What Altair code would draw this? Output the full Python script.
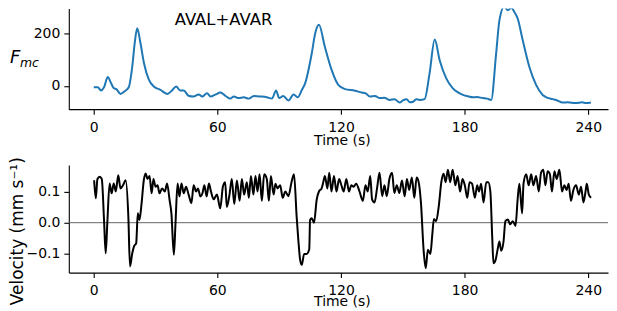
import altair as alt
import pandas as pd

# ---- data ----
time_f = [0, 2, 3.5, 5, 6.8, 8.4, 9.7, 11, 13, 15, 17, 18.7, 20, 21.1, 22.7, 24.4, 26.8, 29.2,
          32.4, 35.7, 38, 40, 42, 43.7, 46, 48.5, 51, 52.6, 55, 56.7, 59, 61.5, 64, 66.3, 68,
          70.4, 72.8, 75.3, 77.7, 81, 84, 86.5, 88.5, 90, 92, 94.5, 97, 99, 101, 102.6, 105.8,
          107.5, 109.3, 112.2, 115.5, 118.7, 122, 126.8, 130, 132, 134, 136.5, 138.8, 141,
          143.7, 146, 148.5, 150, 151.8, 153.5, 155, 156.5, 158.2, 160.6, 163, 165.5, 167.9,
          171.1, 174.3, 177, 179.2, 182, 184, 186, 188.8, 191, 192.9, 195.3, 196.9, 199.3,
          200.9, 202.6, 204.2, 205.8, 208.2, 211.4, 214.7, 217.9, 220, 222.7, 225, 227.5, 230,
          234, 237, 239, 241.3]
fmc = [-5, -5, -17, -5, 34, 11, -8, -12, -30, -20, -5, 73, 170, 219, 162, 86, 23, -2,
       -15, -30, -17, -2, -17, -17, -37, -40, -32, -40, -28, -40, -33, -25, -38, -48, -40,
       -46, -43, -48, -38, -40, -43, -48, -17, -46, -38, -55, -32, -43, -15, 10, 123,
       200, 232, 148, 60, 4, -12, -18, -25, -28, -40, -38, -46, -45,
       -53, -50, -63, -55, -50, -62, -60, -50, -53, -50, 48, 176, 98,
       29, -9, -25, -34, -40, -43, -42, -46, -48, -53, 123, 249, 302,
       287, 297, 280, 255, 174, 73, 4, -34, -44, -50, -55, -63, -62,
       -65, -62, -65, -63]

time_v = [0.2, 1.0, 1.8, 2.9, 3.9, 5.0, 5.8, 6.6, 7.7, 8.7, 9.7, 10.7, 11.9, 13.0, 14.2, 15.5,
          16.8, 17.6, 18.7, 19.6, 20.6, 21.4, 22.2, 23.2, 24.3, 25.2, 26.1, 27.1, 28.1, 29.0,
          30.0, 31.0, 31.9, 33.2, 34.5, 35.6, 36.8, 37.7, 38.9, 39.7, 40.7, 41.6, 42.6, 43.7,
          44.8, 46.1, 47.4, 48.5, 49.7, 50.6, 51.8, 52.8, 53.7, 54.8, 55.9, 56.9, 58.2, 59.8,
          61.4, 62.7, 63.8, 64.6, 65.9, 67.0, 68.2, 69.5, 70.8, 71.9, 73.0, 74.3, 75.3, 76.3,
          77.5, 78.5, 79.5, 80.5, 81.6, 82.7, 84.0, 85.0, 86.0, 87.3, 88.2, 89.2, 90.5, 91.7,
          93.0, 94.5, 96.0, 97.2, 98.5, 99.3, 100.2, 101.0, 102.1, 103.3, 104.6, 105.0, 105.8,
          106.9, 108.2, 109.3, 110.6, 111.4, 112.2, 113.4, 114.3, 115.4, 116.6, 117.8, 119.1,
          120.2, 121.3, 122.6, 123.9, 125.0, 126.1, 127.4, 129.0, 130.6, 131.9, 133.0, 134.2,
          135.1, 136.3, 137.5, 138.7, 140.0, 141.1, 142.2, 143.5, 144.8, 145.9, 147.1, 148.3,
          149.6, 150.9, 152.0, 153.1, 154.4, 155.6, 156.7, 157.7, 158.8, 160.1, 161.1, 162.2,
          163.4, 164.3, 165.1, 166.2, 167.5, 168.7, 169.8, 170.8, 171.9, 173.0, 174.2, 175.5,
          176.6, 177.8, 179.0, 180.1, 181.3, 182.4, 183.6, 185.0, 186.1, 187.0, 188.0, 189.2,
          190.5, 191.5, 192.5, 193.4, 194.0, 195.0, 196.2, 196.9, 197.8, 198.9, 199.8, 201.0,
          202.1, 203.4, 204.7, 205.8, 206.6, 207.9, 208.6, 209.9, 211.1, 212.3, 213.4, 214.7,
          216.0, 217.1, 218.2, 219.2, 220.3, 221.4, 222.4, 223.6, 224.7, 226.0, 227.3, 228.4,
          229.5, 230.5, 231.6, 232.8, 234.1, 235.4, 236.5, 237.7, 238.7, 239.3, 240.3, 241.4]
vel = [0.136, 0.078, 0.14, 0.147, 0.14, 0.009, -0.098, 0.0, 0.126, 0.094, 0.126, 0.1, 0.152, 0.11, 0.12, 0.136,
       0.02, -0.14, -0.098, -0.075, -0.066, 0.03, 0.009, 0.06, 0.136, 0.158, 0.14, 0.15, 0.094, 0.14,
       0.115, 0.12, 0.094, 0.11, 0.1, 0.126, 0.073, 0.03, -0.103, 0.0, 0.126, 0.084, 0.126, 0.094,
       0.115, 0.089, 0.063, 0.12, 0.1, 0.11, 0.084, 0.095, 0.12, 0.084, 0.126, 0.1, 0.075, 0.09,
       0.046, 0.116, 0.13, 0.05, 0.09, 0.14, 0.06, 0.135, 0.07, 0.14, 0.09, 0.13, 0.08, 0.15,
       0.09, 0.15, 0.1, 0.155, 0.07, 0.155, 0.14, 0.07, 0.15, 0.09, 0.125, 0.11, 0.12, 0.08,
       0.1, 0.085, 0.13, 0.155, 0.018, -0.055, -0.12, -0.135, -0.1, -0.1, -0.085, 0.009, 0.014,
       0.0, 0.073, 0.1, 0.11, 0.13, 0.15, 0.11, 0.16, 0.1, 0.15, 0.1, 0.14,
       0.12, 0.1, 0.14, 0.1, 0.12, 0.115, 0.125, 0.1, 0.07, 0.12, 0.1, 0.15,
       0.075, 0.065, 0.11, 0.16, 0.085, 0.12, 0.085, 0.14, 0.16, 0.095, 0.12, 0.095,
       0.135, 0.085, 0.14, 0.105, 0.145, 0.08, 0.145, 0.13, 0.065, -0.087, -0.146, -0.087,
       -0.1, -0.04, 0.012, 0.005, 0.055, 0.13, 0.157, 0.13, 0.17, 0.13, 0.17, 0.12,
       0.15, 0.1, 0.14, 0.12, 0.08, 0.13, 0.125, 0.08, 0.12, 0.1, 0.125, 0.065,
       0.13, 0.13, 0.1, -0.045, -0.13, -0.12, -0.08, -0.06, -0.09, -0.06, 0.005, 0.01,
       -0.005, 0.005, -0.01, 0.08, 0.125, 0.03, 0.125, 0.155, 0.12, 0.155, 0.12, 0.15,
       0.1, 0.16, 0.17, 0.12, 0.165, 0.155, 0.1, 0.165, 0.14, 0.17, 0.1, 0.12,
       0.105, 0.125, 0.07, 0.105, 0.12, 0.09, 0.115, 0.065, 0.1, 0.125, 0.09, 0.08]

x_ticks = [0, 60, 120, 180, 240]
f_ticks = [0, 200]
v_ticks = [-0.1, 0.0, 0.1]
label_text = ["AVAL+AVAR"]
label_t = [63]
label_f = [252]

df_f = pd.DataFrame({"t": time_f, "f": fmc})
df_v = pd.DataFrame({"t": time_v, "v": vel})
df_lab = pd.DataFrame({"t": label_t, "f": label_f, "label": label_text})
df_zero = pd.DataFrame({"v": [0.0]})

FONT = "DejaVu Sans"
W = 541


def x_axis(title_y):
    return alt.Axis(values=x_ticks, title="Time (s)", titleX=274, titleY=title_y,
                    titleBaseline="alphabetic", labelPadding=6)


xscale = alt.Scale(domain=[-12.1, 249.6], nice=False, zero=False)

top_line = alt.Chart(df_f).mark_line(color="#1f77b4", strokeWidth=2, clip=True,
                                      interpolate="monotone").encode(
    x=alt.X("t:Q", scale=xscale, axis=x_axis(35)),
    y=alt.Y("f:Q", scale=alt.Scale(domain=[-88, 294], nice=False, zero=False),
            axis=alt.Axis(values=f_ticks, title=None, labelPadding=4)),
)
top_label = alt.Chart(df_lab).mark_text(font=FONT, fontSize=16.5, color="black",
                                         align="center", baseline="middle").encode(
    x="t:Q", y="f:Q", text="label:N")
f_text = alt.Chart(pd.DataFrame({"s": ["F"]})).mark_text(
    font=FONT, fontSize=18, fontStyle="italic", color="black", align="left",
    baseline="alphabetic").encode(x=alt.value(-59), y=alt.value(55), text="s:N")
mc_text = alt.Chart(pd.DataFrame({"s": ["mc"]})).mark_text(
    font=FONT, fontSize=12.5, fontStyle="italic", color="black", align="left",
    baseline="alphabetic").encode(x=alt.value(-49), y=alt.value(59), text="s:N")

top = alt.layer(top_line, top_label, f_text, mc_text).properties(width=W, height=101)

zero_rule = alt.Chart(df_zero).mark_rule(color="#666666", strokeWidth=1).encode(y="v:Q")
bot_line = alt.Chart(df_v).mark_line(color="black", strokeWidth=2,
                                     interpolate="monotone").encode(
    x=alt.X("t:Q", scale=xscale, axis=x_axis(33)),
    y=alt.Y("v:Q", scale=alt.Scale(domain=[-0.16, 0.185], nice=False, zero=False),
            axis=alt.Axis(values=v_ticks, format=".1f", title="Velocity (mm s⁻¹)",
                          titleFontSize=17, titleX=-46, titleY=66,
                          titleBaseline="alphabetic", labelPadding=4)),
)
bottom = alt.layer(zero_rule, bot_line).properties(width=W, height=108)

chart = alt.vconcat(top, bottom, spacing=56, bounds="flush").properties(
    padding={"left": 0, "top": 0, "right": 0, "bottom": 0}
).configure_view(strokeWidth=0).configure_axis(
    grid=False, domainColor="black", tickColor="black", labelColor="black",
    titleColor="black", labelFont=FONT, titleFont=FONT, labelFontSize=14,
    titleFontSize=14, titleFontWeight="normal", tickSize=5, domainWidth=1.1,
    tickWidth=1.1
)

chart.save("out.html", embed_options={"renderer": "svg", "actions": False})
